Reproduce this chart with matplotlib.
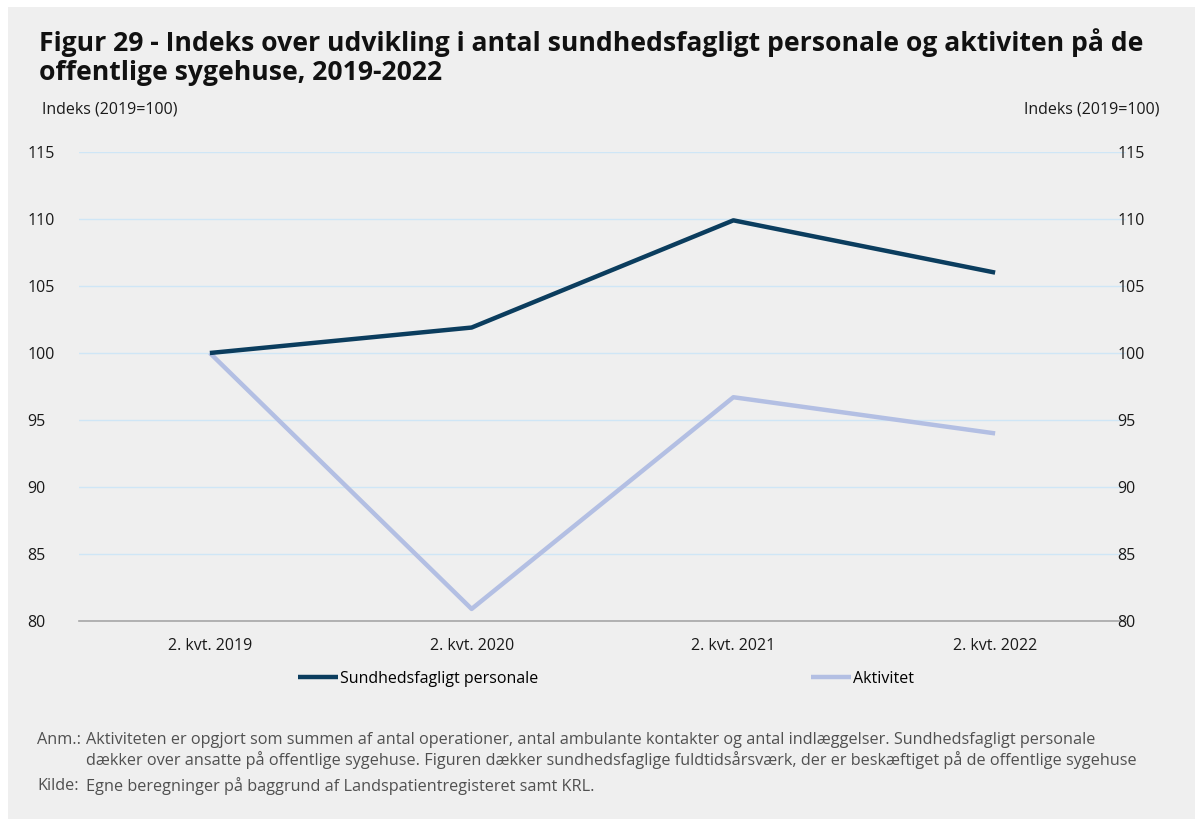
import matplotlib.pyplot as plt
from matplotlib.patches import Rectangle

# data
kvartaler = ['2. kvt. 2019', '2. kvt. 2020', '2. kvt. 2021', '2. kvt. 2022']
personale = [100.0, 101.9, 109.9, 106.0]
aktivitet = [100.0, 80.9, 96.7, 94.0]
y_ticks = [80, 85, 90, 95, 100, 105, 110, 115]

BG = '#efefef'
DARK = '#0b3d5e'
LIGHT = '#b3bfe3'
GRID = '#cfe6f6'

plt.rcParams['font.family'] = ['Open Sans', 'DejaVu Sans']

fig = plt.figure(figsize=(11.95, 8.19), dpi=100)
fig.patch.set_facecolor('white')
fig.add_artist(Rectangle((8 / 1195, 0), 1, 1 - 7 / 819, transform=fig.transFigure,
                         facecolor=BG, edgecolor='none', zorder=-10))

# axes: x from 79 to 1126 px, y from 152 (115) to 621 (80)
ax = fig.add_axes([79 / 1195, 1 - 621 / 819, (1126 - 79) / 1195, (621 - 152) / 819])
ax.set_facecolor('none')
x = range(len(kvartaler))
ax.plot(x, aktivitet, color=LIGHT, lw=3.2, label='Aktivitet', solid_capstyle='butt', zorder=3)
ax.plot(x, personale, color=DARK, lw=3.2, label='Sundhedsfagligt personale', solid_capstyle='butt', zorder=4)

ax.set_xlim(-0.5, len(kvartaler) - 0.5)
ax.set_ylim(80, 115)
ax.set_yticks(y_ticks)
ax.set_yticklabels([str(t) for t in y_ticks], ha='left')
ax.set_xticks(list(x))
ax.set_xticklabels(kvartaler)
ax.grid(axis='y', color=GRID, lw=1)
ax.set_axisbelow(True)
for s in ['top', 'left', 'right']:
    ax.spines[s].set_visible(False)
ax.spines['bottom'].set_color('#a6a6a6')
ax.spines['bottom'].set_linewidth(1.2)
ax.spines['bottom'].set_zorder(2)
ax.tick_params(axis='both', length=0, labelsize=11.5, colors='#1a1a1a')
ax.tick_params(axis='x', pad=12)
ax.tick_params(axis='y', pad=37)

ax2 = ax.twinx()
ax2.set_ylim(80, 115)
ax2.set_yticks(y_ticks)
ax2.set_yticklabels([str(t) for t in y_ticks])
for s in ['top', 'left', 'right', 'bottom']:
    ax2.spines[s].set_visible(False)
ax2.tick_params(axis='y', length=0, labelsize=11.5, colors='#1a1a1a', pad=-6)

# legend built from the plotted lines
h, l = ax.get_legend_handles_labels()
fig.legend([h[1]], [l[1]], loc='center left', bbox_to_anchor=(284 / 1195, 1 - 679 / 819),
           frameon=False, fontsize=11.5, handlelength=2.5, handletextpad=0.1)
fig.legend([h[0]], [l[0]], loc='center left', bbox_to_anchor=(797 / 1195, 1 - 679 / 819),
           frameon=False, fontsize=11.5, handlelength=2.5, handletextpad=0.1)

title_lines = ['Figur 29 - Indeks over udvikling i antal sundhedsfagligt personale og aktiviten på de',
               'offentlige sygehuse, 2019-2022']
for i, line in enumerate(title_lines):
    fig.text(39 / 1195, 1 - (43 + 30 * i) / 819, line, fontsize=19.1, fontweight='bold',
             va='center', ha='left', color='#111111')
fig.text(42 / 1195, 1 - 110 / 819, 'Indeks (2019=100)', fontsize=11.5, va='center', ha='left', color='#1a1a1a')
fig.text(1160 / 1195, 1 - 110 / 819, 'Indeks (2019=100)', fontsize=11.5, va='center', ha='right', color='#1a1a1a')

note_c = '#505050'
fs_note = 11.7
fig.text(37 / 1195, 1 - 740 / 819, 'Anm.:', fontsize=fs_note, va='center', color=note_c)
fig.text(86 / 1195, 1 - 740 / 819,
         'Aktiviteten er opgjort som summen af antal operationer, antal ambulante kontakter og antal indlæggelser. Sundhedsfagligt personale',
         fontsize=fs_note, va='center', color=note_c)
fig.text(86 / 1195, 1 - 760 / 819,
         'dækker over ansatte på offentlige sygehuse. Figuren dækker sundhedsfaglige fuldtidsårsværk, der er beskæftiget på de offentlige sygehuse',
         fontsize=fs_note, va='center', color=note_c)
fig.text(37 / 1195, 1 - 786 / 819, 'Kilde:', fontsize=fs_note, va='center', color=note_c)
fig.text(86 / 1195, 1 - 786 / 819, 'Egne beregninger på baggrund af Landspatientregisteret samt KRL.',
         fontsize=fs_note, va='center', color=note_c)

fig.savefig('out.png', dpi=100, facecolor=fig.get_facecolor())
